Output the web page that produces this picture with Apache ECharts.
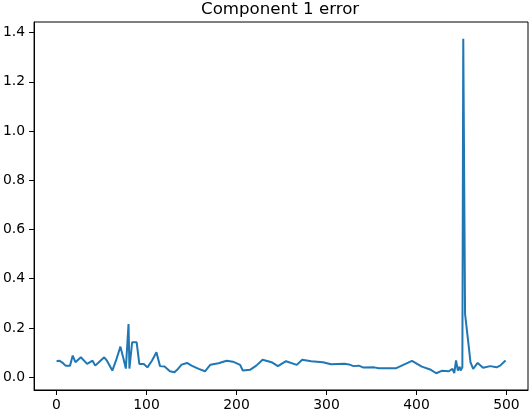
<!DOCTYPE html>
<html>
<head>
<meta charset="utf-8">
<title>Component 1 error</title>
<style>
body { margin: 0; background: #fff; }
#chart { width: 529px; height: 412px; }
</style>
</head>
<body>
<div id="chart"></div>
<script src="https://cdn.jsdelivr.net/npm/echarts@6/dist/echarts.min.js"></script>
<script>
// values
const steps = [0, 3, 7, 10, 15, 18, 21, 27, 34, 40, 43, 47, 53, 56, 62, 66, 71, 74, 77, 80, 81, 84, 89, 92, 97,
  101, 106, 111, 115, 120, 126, 128, 131, 134, 139, 145, 150, 158, 165, 171, 180, 189, 196, 204, 207, 209,
  215, 222, 229, 231, 239, 246, 255, 267, 273, 283, 296, 305, 320, 325, 330, 336, 341, 353, 358, 377, 386,
  395, 406, 416, 422, 428, 436, 440, 442, 444, 446, 448, 449, 451, 452, 454, 455, 458, 460, 463, 468, 474,
  482, 489, 493, 499];
const errors = [0.065, 0.067, 0.058, 0.047, 0.047, 0.088, 0.061, 0.081, 0.054, 0.067, 0.047, 0.061, 0.081, 0.067,
  0.027, 0.067, 0.124, 0.081, 0.035, 0.216, 0.035, 0.142, 0.142, 0.054, 0.054, 0.04, 0.067, 0.101, 0.045,
  0.043, 0.024, 0.026, 0.02, 0.03, 0.051, 0.058, 0.047, 0.034, 0.024, 0.051, 0.057, 0.067, 0.063, 0.05,
  0.027, 0.02, 0.03, 0.047, 0.071, 0.074, 0.061, 0.045, 0.065, 0.05, 0.071, 0.065, 0.061, 0.053, 0.055,
  0.052, 0.045, 0.047, 0.039, 0.04, 0.036, 0.036, 0.051, 0.066, 0.043, 0.03, 0.016, 0.026, 0.024, 0.034,
  0.017, 0.068, 0.027, 0.043, 0.027, 0.04, 1.375, 0.257, 0.25, 0.128, 0.061, 0.034, 0.058, 0.038, 0.045,
  0.04, 0.047, 0.068];
const xTicks = [0, 100, 200, 300, 400, 500];
const yTicks = [0, 0.2, 0.4, 0.6, 0.8, 1.0, 1.2, 1.4];

const font = 'DejaVu Sans';
const chart = echarts.init(document.getElementById('chart'), null, { renderer: 'canvas' });

const axisCommon = {
  type: 'value',
  splitLine: { show: false },
  axisLine: { show: true, onZero: false, lineStyle: { color: '#000', width: 1 } },
  axisTick: { show: true, length: 5, lineStyle: { color: '#000', width: 1 } },
};

chart.setOption({
  animation: false,
  title: {
    text: 'Component 1 error',
    left: 201, top: 1, padding: 0,
    textStyle: { fontFamily: font, fontSize: 16.67, fontWeight: 'normal', color: '#000' }
  },
  grid: { left: 32, right: 1, top: 22, bottom: 21, show: true, borderColor: '#000', borderWidth: 1 },
  xAxis: Object.assign({}, axisCommon, {
    min: -24.95, max: 523.95,
    axisTick: Object.assign({}, axisCommon.axisTick, { customValues: xTicks }),
    axisLabel: { customValues: xTicks, margin: 8, fontFamily: font, fontSize: 13.9, color: '#000' }
  }),
  yAxis: Object.assign({}, axisCommon, {
    min: -0.052, max: 1.443,
    axisTick: Object.assign({}, axisCommon.axisTick, { customValues: yTicks }),
    axisLabel: {
      customValues: yTicks, margin: 9, fontFamily: font, fontSize: 13.9, color: '#000',
      formatter: v => v.toFixed(1)
    }
  }),
  series: [{
    type: 'line',
    data: steps.map((s, i) => [s, errors[i]]),
    showSymbol: false,
    lineStyle: { color: '#1f77b4', width: 2 },
    itemStyle: { color: '#1f77b4' }
  }]
});
</script>
</body>
</html>
